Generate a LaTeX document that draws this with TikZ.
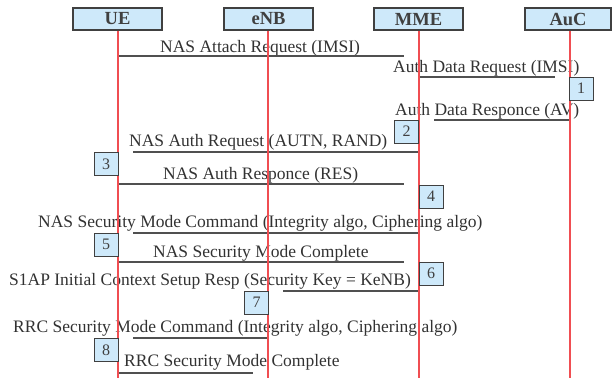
\documentclass[tikz,border=0pt]{standalone}
\usepackage{fontspec}
\setmainfont{Liberation Serif}
\definecolor{boxfill}{RGB}{206,233,250}
\definecolor{boxline}{RGB}{64,64,64}
\definecolor{lifered}{RGB}{240,78,82}
\definecolor{msgline}{RGB}{80,80,80}
\definecolor{msgtext}{RGB}{50,50,50}
\tikzset{
  entity/.style={draw=boxline, fill=boxfill, line width=1.1pt, minimum width=89pt,
    minimum height=22pt, inner sep=0pt, font=\fontsize{18.5}{20}\selectfont\bfseries,
    text=boxline},
  stepno/.style={draw=boxline, fill=boxfill, line width=1pt, minimum width=24pt,
    minimum height=23pt, inner sep=0pt, font=\fontsize{16}{18}\selectfont, text=boxline},
  msg/.style={anchor=base west, inner sep=0pt, font=\fontsize{17.5}{20}\selectfont, text=msgtext},
  msgarrow/.style={draw=msgline, line width=1.2pt},
  lifeline/.style={draw=lifered, line width=1.1pt}
}
\begin{document}
\begin{tikzpicture}[x=1pt,y=-1pt]
\useasboundingbox (0,0) rectangle (612,378);

% message texts
\node[msg] (t1) at (160,52) {NAS Attach Request (IMSI)};
\node[msg] (t2) at (393,72) {Auth Data Request (IMSI)};
\node[msg] (t3) at (395,115) {Auth Data Responce (AV)};
\node[msg] (t4) at (129,146) {NAS Auth Request (AUTN, RAND)};
\node[msg] (t5) at (163,179) {NAS Auth Responce (RES)};
\node[msg] (t6) at (38,227) {NAS Security Mode Command (Integrity algo, Ciphering algo)};
\node[msg] (t7) at (153,257) {NAS Security Mode Complete};
\node[msg] (t8) at (9,285) {S1AP Initial Context Setup Resp (Security Key = KeNB)};
\node[msg] (t9) at (13,332) {RRC Security Mode Command (Integrity algo, Ciphering algo)};
\node[msg] (t10) at (124,366) {RRC Security Mode Complete};

% message end points
\coordinate (m1a) at (118,56);  \coordinate (m1b) at (404,56);
\coordinate (m2a) at (419,77);  \coordinate (m2b) at (555,77);
\coordinate (m3a) at (434,120); \coordinate (m3b) at (570,120);
\coordinate (m4a) at (133,152); \coordinate (m4b) at (419,152);
\coordinate (m5a) at (118,184); \coordinate (m5b) at (404,184);
\coordinate (m6a) at (133,233); \coordinate (m6b) at (419,233);
\coordinate (m7a) at (118,262); \coordinate (m7b) at (404,262);
\coordinate (m8a) at (283,291); \coordinate (m8b) at (419,291);
\coordinate (m9a) at (133,338); \coordinate (m9b) at (268,338);
\coordinate (m10a) at (118,373); \coordinate (m10b) at (253,373);

\foreach \i in {1,...,10} \draw[msgarrow] (m\i a) -- (m\i b);

% entities and lifelines
\node[entity] (ue)  at (117.5,19) {UE};
\node[entity] (enb) at (268.5,19) {eNB};
\node[entity] (mme) at (418.5,19) {MME};
\node[entity, minimum width=86pt] (auc) at (568,19) {AuC};

\coordinate (ueend)  at (118,378);
\coordinate (enbend) at (268,378);
\coordinate (mmeend) at (419,378);
\coordinate (aucend) at (570,378);

\draw[lifeline] (ue.south -| ueend) -- (ueend);
\draw[lifeline] (enb.south -| enbend) -- (enbend);
\draw[lifeline] (mme.south -| mmeend) -- (mmeend);
\draw[lifeline] (auc.south -| aucend) -- (aucend);

% processing steps
\node[stepno] (s1) at (581,88.5) {1};
\node[stepno] (s2) at (406.5,131.5) {2};
\node[stepno] (s3) at (106,164) {3};
\node[stepno] (s4) at (431,196.5) {4};
\node[stepno] (s5) at (106,244.5) {5};
\node[stepno] (s6) at (431,273.5) {6};
\node[stepno] (s7) at (256.5,302.5) {7};
\node[stepno] (s8) at (106,350) {8};
\end{tikzpicture}
\end{document}
